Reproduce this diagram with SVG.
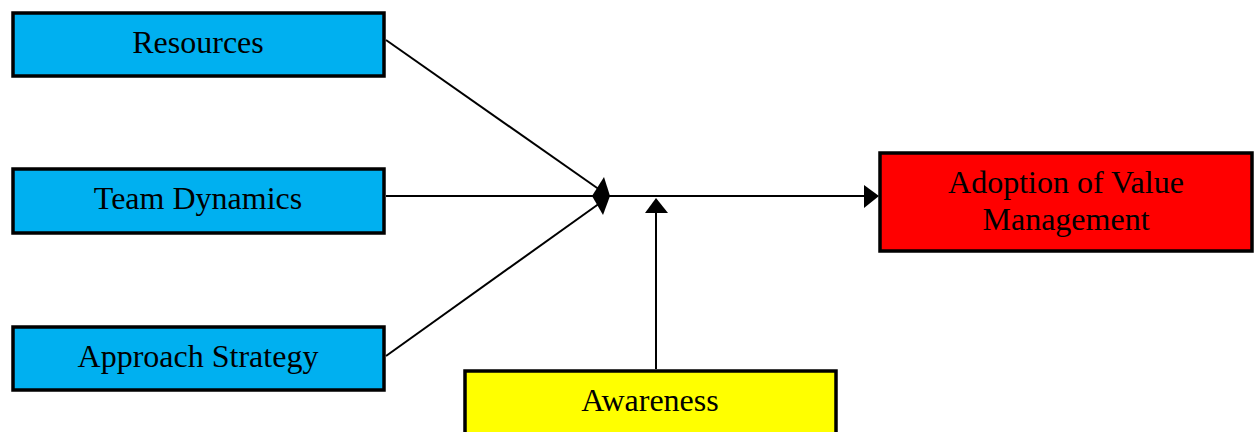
<svg xmlns="http://www.w3.org/2000/svg" width="1254" height="432" viewBox="0 0 1254 432">
<defs>
<style>
.box{stroke:#000;stroke-width:3.5}
.blue{fill:#00b0f0}
.t{font-family:"Liberation Serif","Times New Roman",serif;font-size:32px;fill:#000;text-anchor:middle}
.c{stroke:#000;stroke-width:2;fill:none}
</style>
</defs>
<rect width="1254" height="432" fill="#fff"/>
<g id="connectors">
<line class="c" x1="386" y1="40" x2="600" y2="190"/>
<line class="c" x1="386" y1="196" x2="600" y2="196"/>
<line class="c" x1="386" y1="356" x2="600" y2="203"/>
<path d="M592,196 L604,177 L610,196 L603,215 Z" fill="#000"/>
<line class="c" x1="606" y1="196" x2="866" y2="196"/>
<path d="M864,185 L879,196 L864,208 Z" fill="#000"/>
<line class="c" x1="656" y1="369" x2="656" y2="210"/>
<path d="M645,213 L656,198 L668,213 Z" fill="#000"/>
</g>
<g id="resources">
<rect class="box blue" x="13" y="13" width="371" height="63"/>
<text class="t" x="198" y="53">Resources</text>
</g>
<g id="team-dynamics">
<rect class="box blue" x="13" y="169" width="371" height="64"/>
<text class="t" x="198" y="209">Team Dynamics</text>
</g>
<g id="approach-strategy">
<rect class="box blue" x="13" y="327" width="371" height="63"/>
<text class="t" x="198" y="367">Approach Strategy</text>
</g>
<g id="adoption">
<rect class="box" fill="#ff0000" x="880" y="153" width="372" height="98"/>
<text class="t" x="1066" y="193">Adoption of Value</text>
<text class="t" x="1066" y="230">Management</text>
</g>
<g id="awareness">
<rect class="box" fill="#ffff00" x="465" y="371" width="371" height="70"/>
<text class="t" x="650" y="411">Awareness</text>
</g>
</svg>
